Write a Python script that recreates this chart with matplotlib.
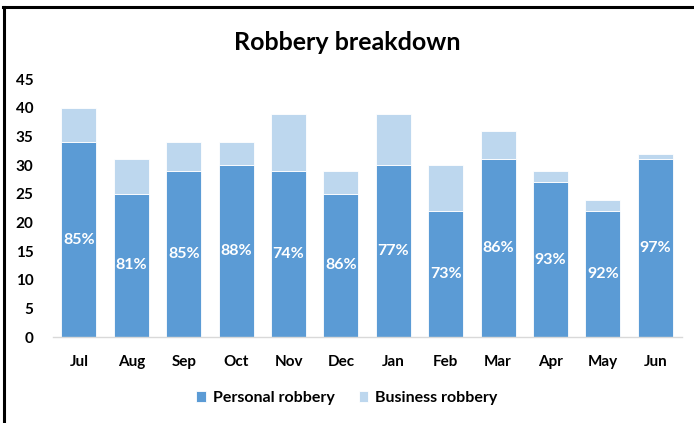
import matplotlib
matplotlib.use("Agg")
import matplotlib.pyplot as plt
from matplotlib.lines import Line2D

months = ["Jul", "Aug", "Sep", "Oct", "Nov", "Dec", "Jan", "Feb", "Mar", "Apr", "May", "Jun"]
personal = [34, 25, 29, 30, 29, 25, 30, 22, 31, 27, 22, 31]
business = [6, 6, 5, 4, 10, 4, 9, 8, 5, 2, 2, 1]
pct_labels = ["85%", "81%", "85%", "88%", "74%", "86%", "77%", "73%", "86%", "93%", "92%", "97%"]
yticks = [0, 5, 10, 15, 20, 25, 30, 35, 40, 45]

plt.rcParams['font.family'] = ['Lato', 'DejaVu Sans']

fig = plt.figure(figsize=(6.94, 4.23), dpi=100)
ax = fig.add_axes([0.076, 0.203, 0.906, 0.610])

x = list(range(len(months)))
c_pers = "#5B9BD5"
c_bus = "#BDD7EE"
w = 0.67
ax.bar(x, personal, width=w, color=c_pers, edgecolor="white", linewidth=0.6, label="Personal robbery")
ax.bar(x, business, width=w, bottom=personal, color=c_bus, edgecolor="white", linewidth=0.6, label="Business robbery")

for xi, p, lab in zip(x, personal, pct_labels):
    ax.text(xi, p / 2, lab, ha="center", va="center", color="white",
            fontsize=11.5, fontweight="bold")

ax.set_xlim(-0.5, len(months) - 0.5)
ax.set_ylim(0, 45)
ax.set_yticks(yticks)
ax.set_xticks(x)
ax.set_xticklabels(months, fontsize=11, fontweight="bold")
ax.set_yticklabels([str(t) for t in yticks], fontsize=11, fontweight="bold")
ax.tick_params(axis="both", length=0)
ax.tick_params(axis="x", pad=13)
ax.tick_params(axis="y", pad=14)
for s in ["top", "right", "left"]:
    ax.spines[s].set_visible(False)
ax.spines["bottom"].set_color("#D9D9D9")
ax.spines["bottom"].set_linewidth(1)

fig.text(0.5, 0.900, "Robbery breakdown", ha="center", va="center",
         fontsize=18, fontweight="bold")

leg = fig.legend(loc="center", bbox_to_anchor=(0.5, 0.060), ncol=2, frameon=False,
                 prop={"weight": "bold", "size": 11.5}, handlelength=0.6, handleheight=0.7,
                 columnspacing=1.5, handletextpad=0.45)

# frame lines (left and top)
fig.add_artist(Line2D([0.006, 0.006], [0, 0.984], transform=fig.transFigure, color="black", linewidth=2.2))
fig.add_artist(Line2D([0.005, 1.0], [0.984, 0.984], transform=fig.transFigure, color="black", linewidth=2.2))

fig.savefig("out.png", dpi=100)
